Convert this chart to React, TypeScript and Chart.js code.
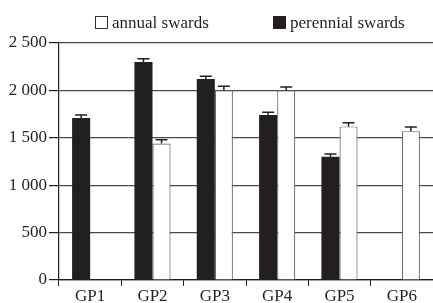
import React, { useEffect, useRef } from "react";
import { Chart, registerables } from "chart.js";

Chart.register(...registerables);

const categories = ["GP1", "GP2", "GP3", "GP4", "GP5", "GP6"];
const perennial = [1710, 2300, 2120, 1740, 1300, null];
const perennialErr = [30, 35, 30, 30, 30, null];
const annual = [null, 1440, 2000, 2000, 1620, 1570];
const annualErr = [null, 40, 45, 35, 40, 45];
const legendLabels = ["annual swards", "perennial swards"];

const FONT = "'Liberation Serif', 'Times New Roman', serif";
const INK = "#231f20";

const errorBarPlugin = {
  id: "errorBars",
  afterDatasetsDraw(chart: any) {
    const ctx = chart.ctx;
    const yScale = chart.scales.y;
    const errs = [perennialErr, annualErr];
    chart.data.datasets.forEach((ds: any, di: number) => {
      const meta = chart.getDatasetMeta(di);
      meta.data.forEach((bar: any, i: number) => {
        const v = ds.data[i];
        const e = errs[di][i];
        if (v == null || e == null) return;
        const top = yScale.getPixelForValue(v + e);
        const base = yScale.getPixelForValue(v);
        ctx.save();
        ctx.strokeStyle = INK;
        ctx.lineWidth = 1.5;
        ctx.beginPath();
        ctx.moveTo(bar.x, base);
        ctx.lineTo(bar.x, top);
        ctx.moveTo(bar.x - 6, top);
        ctx.lineTo(bar.x + 6, top);
        ctx.stroke();
        ctx.restore();
      });
    });
  },
};

const legendPlugin = {
  id: "customLegend",
  afterDraw(chart: any) {
    const ctx = chart.ctx;
    ctx.save();
    ctx.font = `17px ${FONT}`;
    ctx.textBaseline = "alphabetic";
    ctx.fillStyle = INK;
    // annual
    ctx.fillStyle = "#ffffff";
    ctx.fillRect(95.5, 16.5, 12, 12);
    ctx.strokeStyle = "#333333";
    ctx.lineWidth = 1;
    ctx.strokeRect(95.5, 16.5, 12, 12);
    ctx.fillStyle = INK;
    ctx.fillText(legendLabels[0], 112, 28);
    // perennial
    ctx.fillStyle = INK;
    ctx.fillRect(273, 16, 13, 13);
    ctx.fillText(legendLabels[1], 290, 28);
    ctx.restore();
  },
};

export default function App() {
  const ref = useRef<HTMLCanvasElement>(null);
  useEffect(() => {
    const chart = new Chart(ref.current!, {
      type: "bar",
      data: {
        labels: categories,
        datasets: [
          {
            label: legendLabels[1],
            data: perennial,
            backgroundColor: INK,
            borderColor: INK,
            borderWidth: 0,
            categoryPercentage: 0.58,
            barPercentage: 1,
          },
          {
            label: legendLabels[0],
            data: annual,
            backgroundColor: "#ffffff",
            borderColor: "#6d6d6d",
            borderWidth: 1.2,
            categoryPercentage: 0.58,
            barPercentage: 1,
          },
        ],
      },
      options: {
        responsive: false,
        animation: false,
        devicePixelRatio: 1,
        layout: { padding: { top: 43, right: 0, left: 0, bottom: 0 } },
        plugins: {
          legend: { display: false },
          tooltip: { enabled: false },
        },
        scales: {
          x: {
            afterFit(scale: any) {
              scale.height = 23;
            },
            border: { color: INK, width: 1.2 },
            grid: {
              offset: true,
              drawOnChartArea: false,
              drawTicks: true,
              tickLength: 6,
              color: INK,
            },
            ticks: {
              color: INK,
              padding: 0,
              font: { family: FONT, size: 17 },
            },
          },
          y: {
            min: 0,
            max: 2500,
            afterFit(scale: any) {
              scale.width = 59;
            },
            border: { color: INK, width: 1.2 },
            grid: {
              color: "#4a4a4a",
              lineWidth: 1.2,
              drawTicks: true,
              tickLength: 10,
              tickColor: INK,
            },
            ticks: {
              stepSize: 500,
              color: INK,
              padding: 2,
              font: { family: FONT, size: 17 },
              callback: (v: any) => {
                const n = Number(v);
                if (n >= 1000) {
                  const th = Math.floor(n / 1000);
                  const rest = String(n % 1000).padStart(3, "0");
                  return `${th} ${rest}`;
                }
                return String(n);
              },
            },
          },
        },
      },
      plugins: [errorBarPlugin, legendPlugin],
    });
    return () => chart.destroy();
  }, []);
  return (
    <div style={{ position: "fixed", left: 0, top: 0, width: 433, height: 303, background: "#fff" }}>
      <canvas ref={ref} width={433} height={303} />
    </div>
  );
}
